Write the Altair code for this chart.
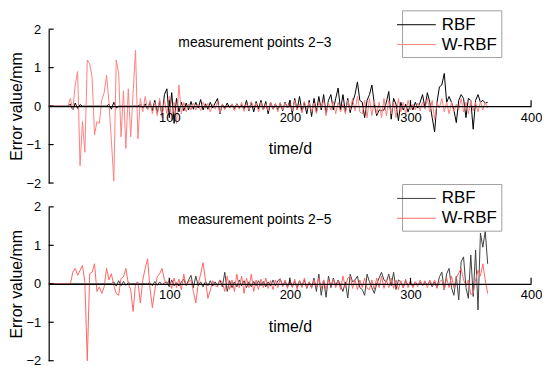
import altair as alt
import pandas as pd

# sampling grid (days)
days = list(range(0, 366, 2))

top_rbf = [
    0, 0, 0, 0, 0, 0, 0, 0, 0, 0.05,
    -0.1, 0.08, -0.06, 0.04, 0, 0, 0, 0, 0, 0,
    0, 0, 0, 0, 0, 0.05, -0.08, 0.1, -0.05, 0,
    0, 0, 0, 0, 0, 0, 0, 0, 0.04, -0.05,
    0.06, -0.08, 0.1, -0.12, 0.15, -0.18, 0.12, -0.25, 0.3, 0.45,
    -0.3, 0.35, -0.45, 0.2, -0.15, 0.1, -0.12, 0.08, -0.1, 0.12,
    -0.08, 0.1, -0.05, 0.17, -0.1, 0.06, -0.08, 0.1, -0.05, 0.08,
    0.2, -0.2, 0.05, -0.06, 0.08, -0.04, 0.05, -0.07, 0.06, -0.05,
    0.04, -0.08, 0.15, -0.12, 0.1, -0.15, 0.12, -0.08, 0.15, -0.1,
    0.12, -0.2, 0.1, -0.08, 0.06, -0.1, 0.08, -0.12, 0.1, -0.05,
    0.15, -0.2, 0.2, -0.1, 0.25, -0.15, 0.1, -0.2, 0.15, -0.27,
    0.2, -0.15, 0.25, -0.1, 0.3, -0.2, 0.15, 0.3, -0.1, 0.2,
    0.47, -0.1, 0.3, -0.15, 0.2, -0.17, 0.1, 0.3, 0.63, 0.15,
    0.1, -0.3, 0.15, 0.3, 0.55, 0.05, -0.25, -0.1, -0.12, -0.1,
    0.1, 0.38, -0.34, 0.2, 0.05, -0.38, 0.1, -0.1, 0.05, -0.15,
    0.05, -0.1, 0.1, -0.05, 0.1, 0.3, -0.05, 0.35, 0.1, -0.3,
    -0.67, 0.1, 0.5, 0.55, 0.85, 0.1, 0.25, 0.1, -0.1, -0.43,
    0.15, 0.3, 0.2, -0.3, 0.2, 0.15, -0.6, 0.15, 0.3, 0.1,
    0.15, 0.08, 0.1,
]

top_wrbf = [
    0, 0, 0, 0, 0, 0, 0, 0, 0, 0.2,
    -0.1, 0.55, 0.9, -1.55, -0.4, -1.2, 1.2, 1.1, 0.75, -0.75,
    -0.4, -0.45, 0.15, 0.35, 0.8, 0.1, -0.9, -1.95, 1.2, 0.85,
    -0.8, 0.4, -1.1, 0.45, -0.8, 0.35, 1.45, -0.85, 0.2, -0.15,
    0.25, -0.1, 0.15, -0.2, 0.1, -0.25, 0.2, -0.3, 0.15, -0.2,
    0.25, -0.35, 0.1, -0.45, 0.55, -0.2, 0.1, -0.15, 0.05, -0.1,
    0.08, -0.1, 0.05, -0.12, 0.1, -0.06, 0.07, -0.15, 0.04, -0.08,
    0.12, -0.18, 0.06, -0.1, 0.03, -0.05, 0.06, -0.12, 0.05, -0.08,
    0.1, -0.14, 0.07, -0.1, 0.12, -0.05, 0.08, -0.15, 0.1, -0.1,
    0.06, -0.12, 0.1, -0.08, 0.05, -0.15, 0.1, -0.1, 0.08, -0.05,
    0.1, -0.12, 0.15, -0.1, 0.05, -0.18, 0.12, -0.08, 0.1, -0.15,
    0.08, -0.2, 0.1, -0.05, 0.15, -0.25, 0.1, -0.1, 0.12, -0.2,
    0.1, -0.15, 0.05, -0.2, 0.15, -0.1, 0.2, -0.12, 0.25, -0.15,
    -0.2, 0.15, -0.3, 0.2, -0.25, 0.15, -0.2, 0.1, -0.3, 0.2,
    -0.25, 0.15, -0.2, 0.1, -0.3, 0.2, -0.15, 0.1, -0.2, 0.15,
    -0.1, 0.05, -0.1, 0.08, -0.12, 0.1, -0.08, 0.2, -0.15, 0.15,
    -0.35, 0.1, -0.05, 0.2, -0.15, 0.1, -0.2, 0.1, -0.15, 0.05,
    -0.1, 0.2, -0.15, 0.1, -0.2, 0.15, -0.12, 0.1, -0.15, 0.12,
    -0.1, 0.1, -0.05,
]

bot_rbf = [
    0, 0, 0, 0, 0, 0, 0, 0, 0, 0,
    0, 0, 0, 0, 0, 0, 0, 0, 0, 0,
    0, 0, 0, 0, 0, 0, 0, 0.05, -0.06, 0.08,
    -0.05, 0.06, -0.04, 0.03, 0, 0, 0, 0, 0, 0,
    0, 0, 0.03, -0.05, 0.06, -0.04, 0.05, -0.03, 0.02, 0.05,
    -0.08, 0.1, -0.05, 0.03, -0.06, 0.05, 0.12, -0.05, 0.1, 0.22,
    -0.1, 0.2, -0.05, 0.05, -0.08, 0.06, -0.05, 0.08, -0.06, 0.05,
    -0.05, 0.1, -0.08, 0.3, -0.2, 0.08, -0.1, 0.05, -0.08, 0.1,
    -0.05, 0.08, -0.1, 0.05, -0.08, 0.06, -0.05, 0.08, -0.05, 0.06,
    -0.08, 0.05, -0.06, 0.1, -0.05, 0.08, 0.13, -0.05, 0.06, -0.08,
    0.1, -0.08, 0.06, -0.1, 0.08, -0.05, 0.1, -0.12, 0.05, -0.1,
    0.15, -0.2, 0.25, -0.3, 0.1, -0.35, 0.2, -0.1, 0.15, -0.05,
    0.1, -0.05, -0.2, 0.05, -0.37, 0.25, 0.05, 0.1, 0.2, -0.1,
    -0.15, -0.3, 0.25, 0.05, -0.1, -0.25, 0.0, 0.15, 0.3, 0.1,
    0.05, 0.25, -0.05, 0.3, -0.15, 0.1, 0.05, -0.1, 0.08, -0.05,
    0.05, -0.08, 0.05, -0.03, 0.04, -0.05, 0.05, -0.03, 0.06, -0.08,
    0.05, -0.1, 0.18, 0.3, -0.16, 0.26, 0.4, -0.1, -0.3, 0.2,
    -0.42, 0.57, 0.7, -0.1, -0.38, 0.75, -0.33, 0.88, -0.68, 1.32,
    0.95, 1.37, 0.52,
]

bot_wrbf = [
    0, 0, 0, 0, 0, 0, 0, 0, 0, 0,
    0.3, 0.4, 0.22, 0.35, 0.48, 0.05, -2.0, 0.26, 0.3, 0.52,
    -0.2, -0.08, -0.25, -0.08, 0.4, 0.1, 0.26, -0.05, -0.25, -0.3,
    0.14, 0.18, 0.4, 0.01, -0.16, -0.72, 0.01, 0.05, -0.5, 0.09,
    0.4, 0.65, -0.12, -0.62, -0.16, 0.18, 0.26, 0.4, 0.1, -0.03,
    0.1, -0.12, 0.15, -0.1, 0.12, -0.15, 0.25, -0.05, 0.05, 0.1,
    -0.2, -0.5, 0, 0.25, 0.55, 0.1, -0.38, -0.17, 0.08, -0.05,
    -0.08, 0.1, 0.04, -0.2, 0.2, -0.15, 0.1, -0.2, 0.25, -0.1,
    0.2, -0.25, 0.15, -0.1, 0.25, -0.2, 0.1, -0.15, 0.12, -0.1,
    0.15, -0.12, 0.08, -0.15, 0.1, -0.1, 0.12, -0.08, 0.1, -0.12,
    0.1, -0.1, 0.12, -0.15, 0.08, -0.1, 0.15, -0.1, 0.05, -0.12,
    0.1, -0.08, 0.15, -0.12, 0.1, -0.15, 0.1, -0.05, 0.12, -0.1,
    0.08, -0.15, 0.2, -0.1, 0.15, 0.2, -0.12, 0.1, -0.15, 0.1,
    -0.1, 0.15, -0.12, -0.15, 0.1, -0.15, 0.15, -0.1, 0.2, -0.12,
    0.1, -0.1, 0.15, -0.12, 0.1, -0.15, 0.08, -0.1, 0.12, -0.1,
    0.08, -0.1, 0.05, -0.08, 0.1, -0.05, 0.08, -0.1, 0.1, -0.05,
    0.1, -0.12, 0.05, 0.1, -0.15, 0.15, -0.1, 0.2, -0.1, 0.15,
    0.28, 0.4, 0.1, -0.05, 0.1, -0.28, -0.25, 0.1, 0.35, 0.2,
    0.52, 0.1, -0.25,
]

series_names = ["RBF", "W-RBF"]
x_ticks = [100, 200, 300, 400]
y_ticks = [-2, -1, 0, 1, 2]
notes = ["measurement points 2\u22123", "measurement points 2\u22125"]

FONT = "Liberation Sans"
W, H = 486, 155


def make_df(rbf, wrbf):
    n = len(days)
    return pd.DataFrame({
        "day": days + days,
        "err": list(rbf[:n]) + list(wrbf[:n]),
        "series": [series_names[0]] * n + [series_names[1]] * n,
    })


def panel(rbf, wrbf, colors, note, legend_y):
    df = make_df(rbf, wrbf)
    xscale = alt.Scale(domain=[0, 400], nice=False, zero=False)
    yscale = alt.Scale(domain=[-2, 2], nice=False)
    xaxis = alt.Axis(
        values=x_ticks, ticks=False, offset=-H / 2, grid=False,
        labelFontSize=13, labelFont=FONT, labelPadding=5, labelFlush=False,
        labelColor="black", title="time/d", titleFont=FONT, titleFontSize=16,
        titleFontWeight="normal", titlePadding=17, titleColor="black",
        domainColor="black", domainWidth=1.2, zindex=1,
    )
    yaxis = alt.Axis(
        values=y_ticks, grid=False, ticks=False, labelOverlap=False,
        labelFontSize=13, labelFont=FONT, labelPadding=8, labelColor="black",
        title="Error value/mm", titleFont=FONT, titleFontSize=16,
        titleFontWeight="normal", titlePadding=2, titleColor="black",
        domainColor="black", domainWidth=1.2,
    )
    lines = alt.Chart(df).mark_line(strokeWidth=1, interpolate="linear").encode(
        x=alt.X("day:Q", scale=xscale, axis=xaxis),
        y=alt.Y("err:Q", scale=yscale, axis=yaxis),
        color=alt.Color(
            "series:N",
            scale=alt.Scale(domain=series_names, range=colors),
            legend=alt.Legend(
                title=None, orient="none", legendX=356, legendY=legend_y,
                symbolType="M-2,0H2", symbolSize=380, symbolStrokeWidth=1,
                symbolFillColor="transparent",
                labelFontSize=17, labelFont=FONT, labelColor="black",
                labelOffset=15, rowPadding=1,
                strokeColor="#a0a0a0", fillColor="white", padding=4,
                labelLimit=0,
            ),
        ),
    )
    # inward tick marks: upward on the zero-line x axis, rightward on the y axis
    xticks = alt.Chart(pd.DataFrame({"day": x_ticks})).mark_rule(
        color="black", strokeWidth=1.2
    ).encode(
        x=alt.X("day:Q", scale=xscale, axis=xaxis),
        y=alt.value(H / 2), y2=alt.value(H / 2 - 6),
    )
    yticks = alt.Chart(pd.DataFrame({"err": y_ticks})).mark_rule(
        color="black", strokeWidth=1.2
    ).encode(
        y=alt.Y("err:Q", scale=yscale, axis=yaxis),
        x=alt.value(0), x2=alt.value(5),
    )
    text = alt.Chart(pd.DataFrame({"label": [note]})).mark_text(
        fontSize=14, font=FONT, align="center", baseline="alphabetic", color="black"
    ).encode(x=alt.datum(171), y=alt.value(17.5), text="label:N")
    return alt.layer(lines, xticks, yticks, text).properties(width=W, height=H)


top = panel(top_rbf, top_wrbf, ["#000000", "#ff8080"], notes[0], -19)
bottom = panel(bot_rbf, bot_wrbf, ["#404040", "#ff6666"], notes[1], -23)

chart = alt.vconcat(top, bottom, spacing=24, bounds="flush").resolve_scale(
    color="independent"
).resolve_legend(color="independent").properties(
    padding={"left": 0, "top": 0, "right": 0, "bottom": 0}
).configure_view(stroke=None)

chart.save("out.html", embed_options={"renderer": "svg", "actions": False})
